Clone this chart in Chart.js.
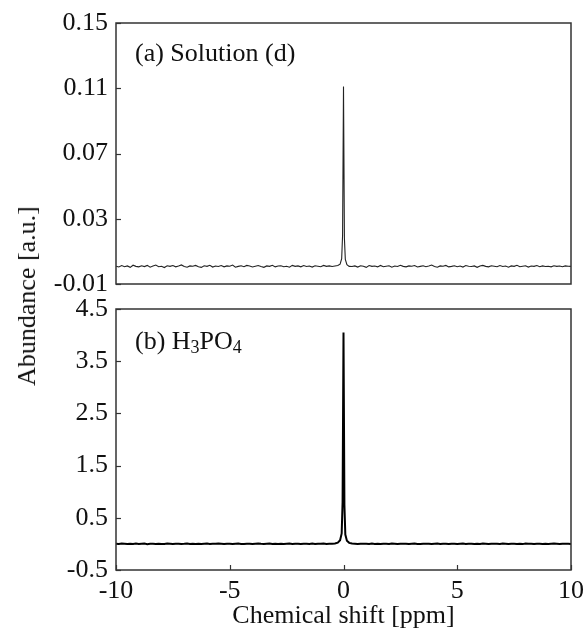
<!DOCTYPE html>
<html>
<head>
<meta charset="utf-8">
<script src="https://cdn.jsdelivr.net/npm/chart.js@4/dist/chart.umd.min.js"></script>
<style>
  body { margin: 0; background: #fff; }
  #wrap { position: relative; width: 583px; height: 631px; overflow: hidden; }
  .panel { position: absolute; left: 0; width: 583px; }
  #panelA { top: 0; height: 300px; }
  #panelB { top: 290px; height: 341px; }
  #ytitle {
    position: absolute; left: 27px; top: 296px;
    transform: translate(-50%, -50%) rotate(-90deg);
    font: 26px "Liberation Serif", "Times New Roman", serif;
    color: #111; white-space: nowrap;
  }
</style>
</head>
<body>
<div id="wrap">
  <div class="panel" id="panelA"><canvas id="chartA"></canvas></div>
  <div class="panel" id="panelB"><canvas id="chartB"></canvas></div>
  <div id="ytitle">Abundance [a.u.]</div>
</div>
<script>
// chemical shift grid [ppm], shared by both spectra
const shift = [
  -10,-9.875,-9.75,-9.625,-9.5,-9.375,-9.25,-9.125,
  -9,-8.875,-8.75,-8.625,-8.5,-8.375,-8.25,-8.125,
  -8,-7.875,-7.75,-7.625,-7.5,-7.375,-7.25,-7.125,
  -7,-6.875,-6.75,-6.625,-6.5,-6.375,-6.25,-6.125,
  -6,-5.875,-5.75,-5.625,-5.5,-5.375,-5.25,-5.125,
  -5,-4.875,-4.75,-4.625,-4.5,-4.375,-4.25,-4.125,
  -4,-3.875,-3.75,-3.625,-3.5,-3.375,-3.25,-3.125,
  -3,-2.875,-2.75,-2.625,-2.5,-2.375,-2.25,-2.125,
  -2,-1.875,-1.75,-1.625,-1.5,-1.375,-1.25,-1.125,
  -1,-0.875,-0.75,-0.625,-0.5,-0.375,
  -0.25,-0.15,-0.08,-0.04,0,0.04,0.08,0.15,0.25,
  0.375,0.5,0.625,0.75,0.875,
  1,1.125,1.25,1.375,1.5,1.625,1.75,1.875,
  2,2.125,2.25,2.375,2.5,2.625,2.75,2.875,
  3,3.125,3.25,3.375,3.5,3.625,3.75,3.875,
  4,4.125,4.25,4.375,4.5,4.625,4.75,4.875,
  5,5.125,5.25,5.375,5.5,5.625,5.75,5.875,
  6,6.125,6.25,6.375,6.5,6.625,6.75,6.875,
  7,7.125,7.25,7.375,7.5,7.625,7.75,7.875,
  8,8.125,8.25,8.375,8.5,8.625,8.75,8.875,
  9,9.125,9.25,9.375,9.5,9.625,9.75,9.875,
  10
]

// (a) Solution (d)
const abundanceA = [
  0.0009,0.0004,0.0013,0.0006,0.0011,0.0002,0.0015,0.0008,0.0005,0.0012,0.0007,0.0014,0.0003,0.0010,0.0016,0.0006,0.0009,0.0001,0.0012,0.0008,
  0.0013,0.0005,0.0010,0.0017,0.0007,0.0003,0.0011,0.0009,0.0014,0.0006,0.0002,0.0012,0.0008,0.0015,0.0004,0.0010,0.0007,0.0013,0.0005,0.0011,
  0.0009,0.0016,0.0003,0.0008,0.0012,0.0006,0.0014,0.0010,0.0004,0.0009,0.0013,0.0007,0.0002,0.0011,0.0008,0.0015,0.0005,0.0010,0.0012,0.0006,
  0.0009,0.0003,0.0014,0.0008,0.0011,0.0005,0.0013,0.0007,0.0010,0.0004,0.0012,0.0009,0.0006,0.0014,0.0008,0.0011,0.0007,0.0010,
  0.0013,0.0022,0.0055,0.0200,0.1110,0.0180,0.0050,0.0018,0.0008,
  0.0007,0.0011,0.0004,0.0012,0.0009,0.0002,0.0013,0.0008,0.0010,0.0005,0.0014,0.0006,0.0009,0.0012,0.0003,0.0010,0.0007,0.0015,0.0008,0.0005,
  0.0011,0.0009,0.0013,0.0004,0.0008,0.0012,0.0006,0.0010,0.0016,0.0007,0.0003,0.0011,0.0009,0.0014,0.0005,0.0008,0.0012,0.0006,0.0010,0.0004,
  0.0013,0.0009,0.0007,0.0011,0.0002,0.0010,0.0014,0.0008,0.0005,0.0012,0.0009,0.0006,0.0013,0.0007,0.0010,0.0003,0.0011,0.0008,0.0015,0.0006,
  0.0009,0.0012,0.0004,0.0010,0.0008,0.0013,0.0006,0.0011,0.0007,0.0009,0.0005,0.0012,0.0008,0.0010,0.0006,0.0011,0.0009,0.0008
]

// (b) H3PO4
const abundanceB = [
  0.004,-0.003,0.006,0.001,-0.004,0.005,0.000,0.007,-0.002,0.003,0.006,-0.005,0.002,0.004,-0.001,0.005,0.000,-0.003,0.006,0.002,
  -0.004,0.003,0.005,-0.002,0.001,0.006,-0.003,0.004,0.000,0.005,-0.002,0.003,0.007,-0.001,0.004,0.002,0.006,0.003,-0.002,0.005,
  0.001,-0.003,0.004,0.006,0.000,-0.002,0.005,0.003,-0.004,0.002,0.006,0.001,-0.001,0.004,0.007,-0.002,0.003,0.000,0.005,-0.003,
  0.002,0.006,-0.001,0.004,0.001,-0.004,0.005,0.003,0.000,0.006,-0.002,0.004,0.002,0.007,-0.001,0.003,0.005,0.008,
  0.025,0.07,0.2,0.8,4.05,0.75,0.18,0.06,0.02,
  0.006,0.002,-0.003,0.005,0.001,0.004,-0.002,0.006,0.000,0.003,-0.004,0.005,0.002,-0.001,0.006,0.003,-0.003,0.004,0.001,0.005,
  -0.002,0.003,0.006,0.000,-0.003,0.004,0.002,0.005,-0.001,0.003,0.006,-0.002,0.004,0.001,-0.003,0.005,0.002,0.000,0.004,0.006,
  -0.001,0.003,0.005,-0.002,0.004,0.000,0.006,0.002,-0.003,0.005,0.001,0.003,-0.001,0.006,0.004,-0.002,0.002,0.005,0.000,0.003,
  -0.004,0.006,0.001,0.004,-0.002,0.003,0.005,0.000,0.002,-0.001,0.004,0.006,0.001,-0.003,0.005,0.002,0.003,0.000
]

const ticksX = [-10, -5, 0, 5, 10]
const ticksA = [-0.01, 0.03, 0.07, 0.11, 0.15]
const ticksB = [-0.5, 0.5, 1.5, 2.5, 3.5, 4.5]

const labelA = [{ t: '(a) Solution (d)' }]
const labelB = [{ t: '(b) H' }, { t: '3', sub: true }, { t: 'PO' }, { t: '4', sub: true }]

const serif = '"Liberation Serif", "Times New Roman", serif'
const ink = '#111'

// box around plot area, inward ticks, panel label
const framePlugin = {
  id: 'frame',
  afterDraw(chart, args, opts) {
    const ctx = chart.ctx
    const a = chart.chartArea
    ctx.save()
    ctx.strokeStyle = '#333'
    ctx.lineWidth = 1.5
    ctx.strokeRect(a.left, a.top, a.right - a.left, a.bottom - a.top)
    ctx.lineWidth = 1.2
    const ys = chart.scales.y
    ys.ticks.forEach(t => {
      const py = Math.round(ys.getPixelForValue(t.value)) + 0.5
      ctx.beginPath(); ctx.moveTo(a.left, py); ctx.lineTo(a.left + 5, py); ctx.stroke()
    })
    if (opts.xTicks) {
      const xs = chart.scales.x
      xs.ticks.forEach(t => {
        const px = Math.round(xs.getPixelForValue(t.value)) + 0.5
        ctx.beginPath(); ctx.moveTo(px, a.bottom); ctx.lineTo(px, a.bottom - 5); ctx.stroke()
      })
    }
    // panel label with subscripts
    let x = a.left + 19
    const y = a.top + opts.labelDy
    ctx.fillStyle = ink
    ctx.textBaseline = 'alphabetic'
    opts.parts.forEach(p => {
      ctx.font = (p.sub ? '18px ' : '26px ') + serif
      ctx.fillText(p.t, x, p.sub ? y + 4 : y)
      x += ctx.measureText(p.t).width
    })
    ctx.restore()
  }
}

function makeChart(id, values, color, width, ticksY, yMin, yMax, withX, label, labelDy, padding) {
  const data = shift.map((s, i) => ({ x: s, y: values[i] }))
  return new Chart(document.getElementById(id), {
    type: 'line',
    data: {
      datasets: [{
        data: data,
        borderColor: color,
        borderWidth: width,
        pointRadius: 0,
        tension: 0,
        fill: false
      }]
    },
    options: {
      responsive: true,
      maintainAspectRatio: false,
      animation: false,
      layout: { padding: padding },
      plugins: {
        legend: { display: false },
        tooltip: { enabled: false },
        frame: { xTicks: withX, parts: label, labelDy: labelDy }
      },
      scales: {
        x: {
          type: 'linear',
          min: -10,
          max: 10,
          display: withX,
          afterBuildTicks: s => { s.ticks = ticksX.map(v => ({ value: v })) },
          afterFit: s => {
            if (!withX) return
            s.height = 61
            s.paddingLeft = 0
            s.paddingRight = 0
          },
          grid: { display: false, drawTicks: false },
          border: { display: false },
          ticks: {
            color: ink,
            padding: 8,
            maxRotation: 0,
            font: { family: serif, size: 26, lineHeight: 1 },
            callback: v => String(v)
          },
          title: {
            display: true,
            text: 'Chemical shift [ppm]',
            color: ink,
            padding: { top: 0, bottom: 2 },
            font: { family: serif, size: 26, lineHeight: 1 }
          }
        },
        y: {
          type: 'linear',
          min: yMin,
          max: yMax,
          afterBuildTicks: s => { s.ticks = ticksY.map(v => ({ value: v })) },
          afterFit: s => {
            s.width = 116
            s.paddingTop = 0
            s.paddingBottom = 0
          },
          grid: { display: false, drawTicks: false },
          border: { display: false },
          ticks: {
            color: ink,
            padding: 8,
            font: { family: serif, size: 26, lineHeight: 1 },
            callback: v => String(v)
          }
        }
      }
    },
    plugins: [framePlugin]
  })
}

makeChart('chartA', abundanceA, '#222', 1.1, ticksA, -0.01, 0.15, false, labelA, 38,
  { left: 0, right: 12, top: 23, bottom: 16 })
makeChart('chartB', abundanceB, '#000', 2, ticksB, -0.5, 4.5, true, labelB, 40,
  { left: 0, right: 12, top: 19, bottom: 0 })
</script>
</body>
</html>
